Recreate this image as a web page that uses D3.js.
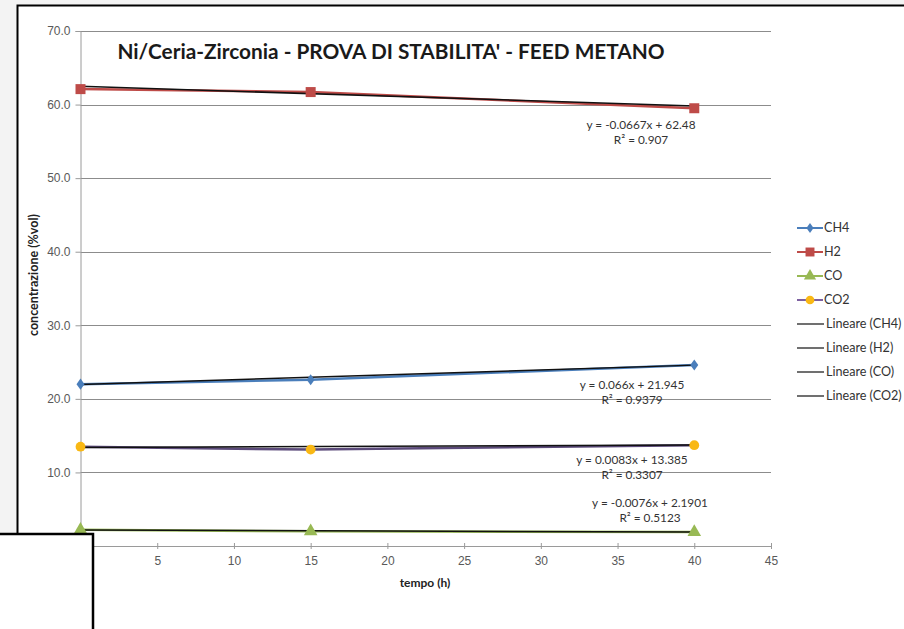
<!DOCTYPE html>
<html>
<head>
<meta charset="utf-8">
<script src="https://cdn.jsdelivr.net/npm/d3@7"></script>
<style>
  body { margin: 0; background: #f3f3f3; }
  svg { display: block; font-family: Lato, "Open Sans", sans-serif; }
</style>
</head>
<body>
<svg id="chart" width="904" height="629"></svg>
<script>
// tempo (h)
const hours = [0, 15, 40];

// concentrazione (%vol) per series
const ch4 = [22.0, 22.6, 24.6];
const h2 = [62.1, 61.7, 59.5];
const co = [2.2, 2.0, 1.9];
const co2 = [13.5, 13.1, 13.7];

// linear trend coefficients shown on the chart
const slopes = [0.066, -0.0667, -0.0076, 0.0083];
const intercepts = [21.945, 62.48, 2.1901, 13.385];
const rSquared = ['0.9379', '0.907', '0.5123', '0.3307'];
const equations = ['y = 0.066x + 21.945', 'y = -0.0667x + 62.48', 'y = -0.0076x + 2.1901', 'y = 0.0083x + 13.385'];

const seriesNames = ['CH4', 'H2', 'CO', 'CO2'];
const seriesValues = [ch4, h2, co, co2];
const lineColors = ['#4a7ebb', '#be4b48', '#98b954', '#5b4a7a'];
const legendLineColors = ['#4a7ebb', '#be4b48', '#98b954', '#7d60a0'];
const markerColors = ['#4a7ebb', '#be4b48', '#98b954', '#f9b814'];
const markerTypes = [d3.symbolDiamond, d3.symbolSquare, d3.symbolTriangle, d3.symbolCircle];
const markerSizes = [55, 100, 80, 75];

const xTicks = [5, 10, 15, 20, 25, 30, 35, 40, 45];
const yTicks = [0, 10, 20, 30, 40, 50, 60, 70];

const svg = d3.select('#chart');

// white chart area with frame
svg.append('rect').attr('x', 17).attr('y', 5).attr('width', 887).attr('height', 624).attr('fill', '#fff');
svg.append('path').attr('d', 'M17.5,629 V5.5 H904').attr('fill', 'none').attr('stroke', '#000').attr('stroke-width', 2);

const x = d3.scaleLinear().domain([0, 45]).range([80.5, 771]);
const y = d3.scaleLinear().domain([0, 70]).range([546, 31]);

// gridlines
svg.append('g').selectAll('line').data(yTicks.filter(t => t > 0)).join('line')
  .attr('x1', x(0)).attr('x2', x(45))
  .attr('y1', d => Math.round(y(d)) + 0.5).attr('y2', d => Math.round(y(d)) + 0.5)
  .attr('stroke', '#8c8c8c').attr('stroke-width', 1);

// y axis
const yAxis = svg.append('g').attr('transform', `translate(${x(0)},0)`)
  .call(d3.axisLeft(y).tickValues(yTicks).tickFormat(d3.format('.1f')).tickSize(5).tickPadding(5));
yAxis.select('.domain').attr('stroke', '#9a9a9a');
yAxis.selectAll('.tick line').attr('stroke', '#9a9a9a');
yAxis.selectAll('.tick text').attr('fill', '#595959').attr('font-size', 12);

// x axis
const xAxis = svg.append('g').attr('transform', `translate(0,${y(0)})`)
  .call(d3.axisBottom(x).tickValues(xTicks).tickSize(0).tickPadding(10));
xAxis.select('.domain').attr('stroke', '#9a9a9a');
xAxis.selectAll('.tick line').attr('y1', -3).attr('y2', 3).attr('stroke', '#9a9a9a');
xAxis.selectAll('.tick text').attr('fill', '#595959').attr('font-size', 12);

// axis titles
svg.append('text').attr('x', 425).attr('y', 587).attr('text-anchor', 'middle')
  .attr('font-size', 12).attr('font-weight', 'bold').attr('fill', '#222').text('tempo (h)');
svg.append('text').attr('transform', 'translate(38,275) rotate(-90)').attr('text-anchor', 'middle')
  .attr('font-size', 12.5).attr('font-weight', 'bold').attr('fill', '#222').text('concentrazione (%vol)');

// title
svg.append('text').attr('x', 391).attr('y', 59).attr('text-anchor', 'middle')
  .attr('font-size', 20.8).attr('font-weight', 'bold').attr('fill', '#1a1a1a')
  .text("Ni/Ceria-Zirconia - PROVA DI STABILITA' - FEED METANO");

// series lines
const line = d3.line().x(d => x(d[0])).y(d => y(d[1]));
seriesValues.forEach((vals, i) => {
  const pts = hours.map((h, j) => [h, vals[j]]);
  svg.append('path').attr('d', line(pts)).attr('fill', 'none')
    .attr('stroke', lineColors[i]).attr('stroke-width', 2.5);
});

// trend lines (black, over series)
seriesValues.forEach((vals, i) => {
  const ends = d3.extent(hours).map(h => [h, slopes[i] * h + intercepts[i]]);
  svg.append('path').attr('d', line(ends)).attr('fill', 'none')
    .attr('stroke', '#111').attr('stroke-width', 1.5);
});

// markers
seriesValues.forEach((vals, i) => {
  svg.append('g').selectAll('path').data(hours.map((h, j) => [h, vals[j]])).join('path')
    .attr('transform', d => `translate(${x(d[0])},${y(d[1])})${i === 0 ? ' scale(1,0.8)' : ''}`)
    .attr('d', d3.symbol(markerTypes[i], markerSizes[i]))
    .attr('fill', markerColors[i]);
});

// trend equations
const eqPos = [[632, 389], [641, 129], [650, 507], [632, 464]];
equations.forEach((eq, i) => {
  const g = svg.append('g').attr('font-size', 11.8).attr('fill', '#333').attr('text-anchor', 'middle');
  g.append('text').attr('x', eqPos[i][0]).attr('y', eqPos[i][1]).text(eq);
  g.append('text').attr('x', eqPos[i][0]).attr('y', eqPos[i][1] + 15).text('R² = ' + rSquared[i]);
});

// legend
const legend = svg.append('g').attr('font-size', 12.6).attr('fill', '#333');
seriesNames.forEach((name, i) => {
  const ly = 228 + i * 24;
  legend.append('line').attr('x1', 797).attr('x2', 823).attr('y1', ly).attr('y2', ly)
    .attr('stroke', legendLineColors[i]).attr('stroke-width', 2);
  legend.append('path').attr('transform', `translate(810,${ly})${i === 0 ? ' scale(1,0.8)' : ''}`)
    .attr('d', d3.symbol(markerTypes[i], markerSizes[i] * 0.8)).attr('fill', markerColors[i]);
  legend.append('text').attr('x', 824).attr('y', ly + 4).text(name);
});
seriesNames.forEach((name, i) => {
  const ly = 324 + i * 24;
  legend.append('line').attr('x1', 797).attr('x2', 824).attr('y1', ly).attr('y2', ly)
    .attr('stroke', '#111').attr('stroke-width', 1.2);
  legend.append('text').attr('x', 826).attr('y', ly + 4).text(`Lineare (${name})`);
});

// overlapping box at the bottom-left corner
svg.append('rect').attr('x', -2).attr('y', 534).attr('width', 95).attr('height', 100)
  .attr('fill', '#fff').attr('stroke', '#000').attr('stroke-width', 2.5);
</script>
</body>
</html>
